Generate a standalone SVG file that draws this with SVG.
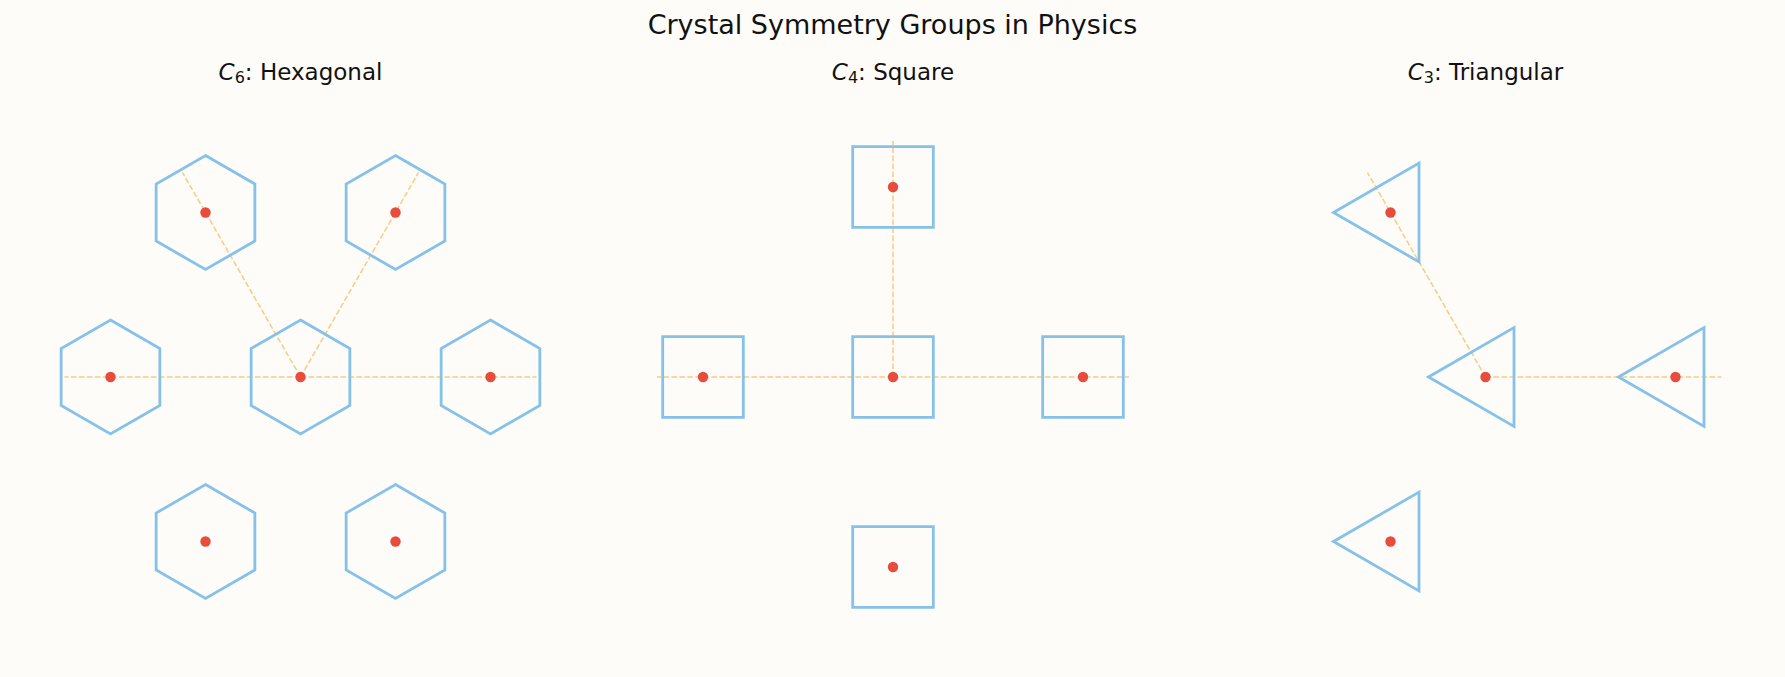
<svg xmlns="http://www.w3.org/2000/svg" xmlns:xlink="http://www.w3.org/1999/xlink" width="1785" height="677" viewBox="0 0 1785 677">
  <style>
    .title { font-family: "DejaVu Sans", sans-serif; font-size: 27px; fill: #111; text-anchor: middle; }
    .sub { font-family: "DejaVu Sans", sans-serif; font-size: 23px; fill: #111; text-anchor: middle; }
    .shape { fill: none; stroke: #85c1e9; stroke-width: 2.8; stroke-linejoin: miter; }
    .dot { fill: #e74c3c; }
    .axis { stroke: #f39c12; stroke-opacity: 0.5; stroke-width: 1.5; stroke-dasharray: 5.6 2.4; fill: none; }
  </style>
  <defs>
    <polygon id="hexShape" class="shape" points="0,-57 49.36,-28.5 49.36,28.5 0,57 -49.36,28.5 -49.36,-28.5"/>
    <polygon id="sqShape" class="shape" points="40.3,-40.3 40.3,40.3 -40.3,40.3 -40.3,-40.3"/>
    <polygon id="triShape" class="shape" points="-57,0 28.5,-49.36 28.5,49.36"/>
    <circle id="dotShape" class="dot" r="5.2"/>
  </defs>
  <rect x="0" y="0" width="1785" height="677" fill="#fdfcf8"/>

  <text class="title" x="892.5" y="34">Crystal Symmetry Groups in Physics</text>
  <text class="sub" x="300.5" y="80"><tspan font-style="italic">C</tspan><tspan font-size="16" dy="3">6</tspan><tspan dy="-3">: Hexagonal</tspan></text>
  <text class="sub" x="893" y="80"><tspan font-style="italic">C</tspan><tspan font-size="16" dy="3">4</tspan><tspan dy="-3">: Square</tspan></text>
  <text class="sub" x="1485.5" y="80"><tspan font-style="italic">C</tspan><tspan font-size="16" dy="3">3</tspan><tspan dy="-3">: Triangular</tspan></text>

  <g id="connectors">
    <line class="axis" x1="300.5" y1="377" x2="536.5" y2="377"/>
    <line class="axis" x1="300.5" y1="377" x2="64.5" y2="377"/>
    <line class="axis" x1="300.5" y1="377" x2="418.5" y2="172.6"/>
    <line class="axis" x1="300.5" y1="377" x2="182.5" y2="172.6"/>
    <line class="axis" x1="893" y1="377" x2="1129" y2="377"/>
    <line class="axis" x1="893" y1="377" x2="657" y2="377"/>
    <line class="axis" x1="893" y1="377" x2="893" y2="141"/>
    <line class="axis" x1="1485.5" y1="377" x2="1721.5" y2="377"/>
    <line class="axis" x1="1485.5" y1="377" x2="1367.5" y2="172.6"/>
  </g>

  <g id="hex-center" transform="translate(300.5,377)"><use href="#hexShape"/><use href="#dotShape"/></g>
  <g id="hex-right" transform="translate(490.5,377)"><use href="#hexShape"/><use href="#dotShape"/></g>
  <g id="hex-left" transform="translate(110.5,377)"><use href="#hexShape"/><use href="#dotShape"/></g>
  <g id="hex-top-right" transform="translate(395.5,212.5)"><use href="#hexShape"/><use href="#dotShape"/></g>
  <g id="hex-top-left" transform="translate(205.5,212.5)"><use href="#hexShape"/><use href="#dotShape"/></g>
  <g id="hex-bottom-left" transform="translate(205.5,541.5)"><use href="#hexShape"/><use href="#dotShape"/></g>
  <g id="hex-bottom-right" transform="translate(395.5,541.5)"><use href="#hexShape"/><use href="#dotShape"/></g>

  <g id="sq-center" transform="translate(893,377)"><use href="#sqShape"/><use href="#dotShape"/></g>
  <g id="sq-right" transform="translate(1083,377)"><use href="#sqShape"/><use href="#dotShape"/></g>
  <g id="sq-top" transform="translate(893,187)"><use href="#sqShape"/><use href="#dotShape"/></g>
  <g id="sq-left" transform="translate(703,377)"><use href="#sqShape"/><use href="#dotShape"/></g>
  <g id="sq-bottom" transform="translate(893,567)"><use href="#sqShape"/><use href="#dotShape"/></g>

  <g id="tri-center" transform="translate(1485.5,377)"><use href="#triShape"/><use href="#dotShape"/></g>
  <g id="tri-right" transform="translate(1675.5,377)"><use href="#triShape"/><use href="#dotShape"/></g>
  <g id="tri-top-left" transform="translate(1390.5,212.5)"><use href="#triShape"/><use href="#dotShape"/></g>
  <g id="tri-bottom-left" transform="translate(1390.5,541.5)"><use href="#triShape"/><use href="#dotShape"/></g>
</svg>
